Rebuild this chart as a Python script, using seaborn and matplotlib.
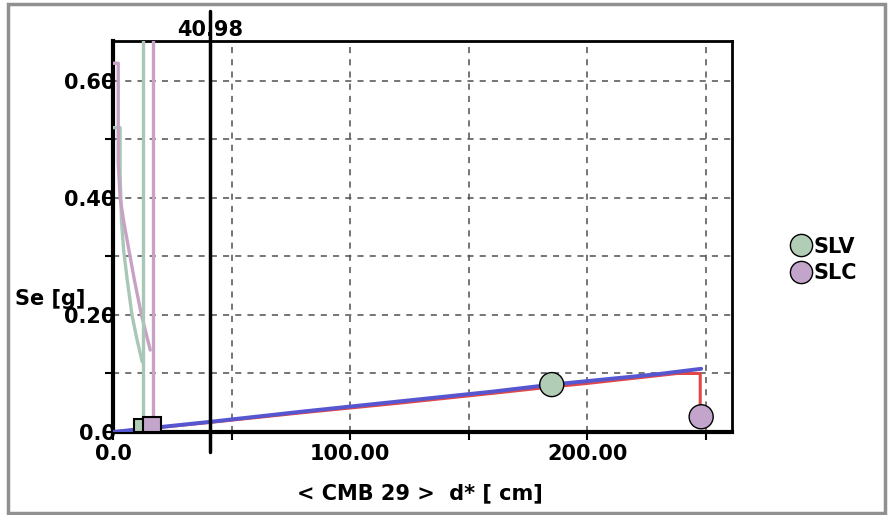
import matplotlib
matplotlib.use("Agg")
import matplotlib.pyplot as plt
import seaborn as sns
import pandas as pd
from matplotlib.patches import Rectangle
from matplotlib.lines import Line2D

# ---- data ----
blue_x = [0, 40, 80, 120, 160, 185, 200, 230, 248]
blue_y = [0, 0.017, 0.035, 0.052, 0.069, 0.081, 0.087, 0.099, 0.108]
red_x = [0, 40, 80, 120, 160, 185, 200, 238, 247.6, 247.6]
red_y = [0, 0.016, 0.033, 0.049, 0.066, 0.077, 0.083, 0.100, 0.100, 0.026]
slv_curve_x = [0, 3.0, 3.0, 3.6, 4.5, 6.0, 8.0, 10.0, 12.3]
slv_curve_y = [0.52, 0.52, 0.44, 0.36, 0.31, 0.26, 0.20, 0.16, 0.12]
slc_curve_x = [0, 2.2, 2.2, 3.0, 4.5, 6.3, 9.0, 12.0, 15.7]
slc_curve_y = [0.63, 0.63, 0.46, 0.40, 0.36, 0.32, 0.26, 0.20, 0.14]
slv_vline_x = 12.6
slc_vline_x = 16.8
bar_x = [11.0, 16.6]
bar_w = [4.2, 7.6]
bar_h = [0.022, 0.026]
point_names = ["SLV", "SLC"]
point_x = [185, 248]
point_y = [0.081, 0.026]
cursor_x = 40.98
cursor_label = "40.98"
xticks_major = [0, 100, 200]
xtick_labels = ["0.0", "100.00", "200.00"]
xticks_minor = [50, 150, 250]
yticks_major = [0.0, 0.2, 0.4, 0.6]
ytick_labels = ["0.0", "0.20", "0.40", "0.60"]
yticks_minor = [0.1, 0.3, 0.5]
x_label = "< CMB 29 >  d* [ cm]"
y_label = "Se [g]"

sns.set_style("white")
plt.rcParams['font.family'] = ['DejaVu Sans']
plt.rcParams['font.weight'] = 'bold'
plt.rcParams['text.color'] = 'black'
plt.rcParams['xtick.color'] = 'black'
plt.rcParams['ytick.color'] = 'black'
plt.rcParams['xtick.labelcolor'] = 'black'
plt.rcParams['ytick.labelcolor'] = 'black'
FS = 15

W, H = 888, 515
fig = plt.figure(figsize=(W / 100, H / 100), dpi=100)
ax = fig.add_axes([113 / W, 1 - 432 / H, (732 - 113) / W, (432 - 41) / H])

green_c = "#a9c7b6"
pink_c = "#c7a2c5"
slv_fill = "#b2cdb6"
slc_fill = "#c3a5cb"

ax.set_xlim(0, 261)
ax.set_ylim(0, 0.668)

# grid
for gx in [50, 100, 150, 200, 250]:
    ax.axvline(gx, color="#505050", lw=1.1, ls=(0, (4, 4)), zorder=1)
for gy in [0.1, 0.2, 0.3, 0.4, 0.5, 0.6]:
    ax.axhline(gy, color="#505050", lw=1.1, ls=(0, (4, 4)), zorder=1)

# left curves and verticals
sns.lineplot(x=slv_curve_x, y=slv_curve_y, sort=False, estimator=None, ax=ax,
             color=green_c, lw=2.4, zorder=3)
sns.lineplot(x=slc_curve_x, y=slc_curve_y, sort=False, estimator=None, ax=ax,
             color=pink_c, lw=2.4, zorder=3)
ax.plot([slv_vline_x, slv_vline_x], [bar_h[0], 1.0], color=green_c, lw=2.4, zorder=3)
ax.plot([slc_vline_x, slc_vline_x], [bar_h[1], 1.0], color=pink_c, lw=2.4, zorder=3)

# bars at origin
ax.bar(bar_x[0], bar_h[0], width=bar_w[0], color=slv_fill, edgecolor="black", lw=1.5, zorder=5)
ax.bar(bar_x[1], bar_h[1], width=bar_w[1], color=slc_fill, edgecolor="black", lw=1.5, zorder=5)

# main lines
sns.lineplot(x=red_x, y=red_y, sort=False, estimator=None, ax=ax,
             color="#e04848", lw=2.2, zorder=4)
sns.lineplot(x=blue_x, y=blue_y, sort=False, estimator=None, ax=ax,
             color="#5656d0", lw=2.8, zorder=4)

# points
df = pd.DataFrame({"x": point_x, "y": point_y, "name": point_names})
sns.scatterplot(data=df, x="x", y="y", hue="name",
                palette={"SLV": slv_fill, "SLC": slc_fill},
                s=300, edgecolor="black", linewidth=1.0, ax=ax, zorder=6,
                legend=False, clip_on=False)

# cursor line
ax.axvline(cursor_x, ymin=-0.052, ymax=1.078, color="black", lw=2.5,
           clip_on=False, zorder=7)
ax.text(cursor_x, 1.013, cursor_label, transform=ax.get_xaxis_transform(),
        ha="center", va="baseline", fontsize=FS, fontweight="bold", color="black")

# ticks
ax.set_xticks(xticks_major)
ax.set_xticklabels(xtick_labels, fontsize=FS, fontweight="bold", color="black")
ax.set_xticks(xticks_minor, minor=True)
ax.set_yticks(yticks_major)
ax.set_yticklabels(ytick_labels, fontsize=FS, fontweight="bold", color="black")
ax.set_yticks(yticks_minor, minor=True)
ax.tick_params(axis="both", which="both", direction="out", length=6, width=1.5,
               color="black", bottom=True, left=True)
ax.tick_params(axis="y", which="major", pad=-8)
ax.tick_params(axis="x", which="major", pad=3)
for lab in ax.get_yticklabels():
    lab.set_zorder(0)

ax.set_xlabel("")
ax.set_ylabel("")
for side, lw in [("left", 3), ("bottom", 3), ("right", 2), ("top", 2)]:
    ax.spines[side].set_visible(True)
    ax.spines[side].set_color("black")
    ax.spines[side].set_linewidth(lw)

fig.text(420 / W, 1 - 493 / H, x_label, ha="center", va="center",
         fontsize=FS, fontweight="bold", color="black")
fig.text(15 / W, 1 - 299 / H, y_label, ha="left", va="center",
         fontsize=FS, fontweight="bold", color="black")

# legend
handles = [Line2D([], [], marker="o", ls="", markersize=16, markerfacecolor=c,
                  markeredgecolor="black", markeredgewidth=1.0)
           for c in [slv_fill, slc_fill]]
fig.legend(handles, point_names, loc="upper left",
           bbox_to_anchor=(774 / W, 1 - 222 / H), frameon=False, borderpad=0.2,
           handletextpad=0.0, handlelength=1.2, labelspacing=0.3,
           prop={"size": FS, "weight": "bold"}, labelcolor="black")

# window border
fig.patches.append(Rectangle((8 / W, 2 / H), (885 - 8) / W, (511 - 2) / H,
                             transform=fig.transFigure, fill=False,
                             edgecolor="#909090", lw=2.5))

fig.savefig("out.png", dpi=100)
